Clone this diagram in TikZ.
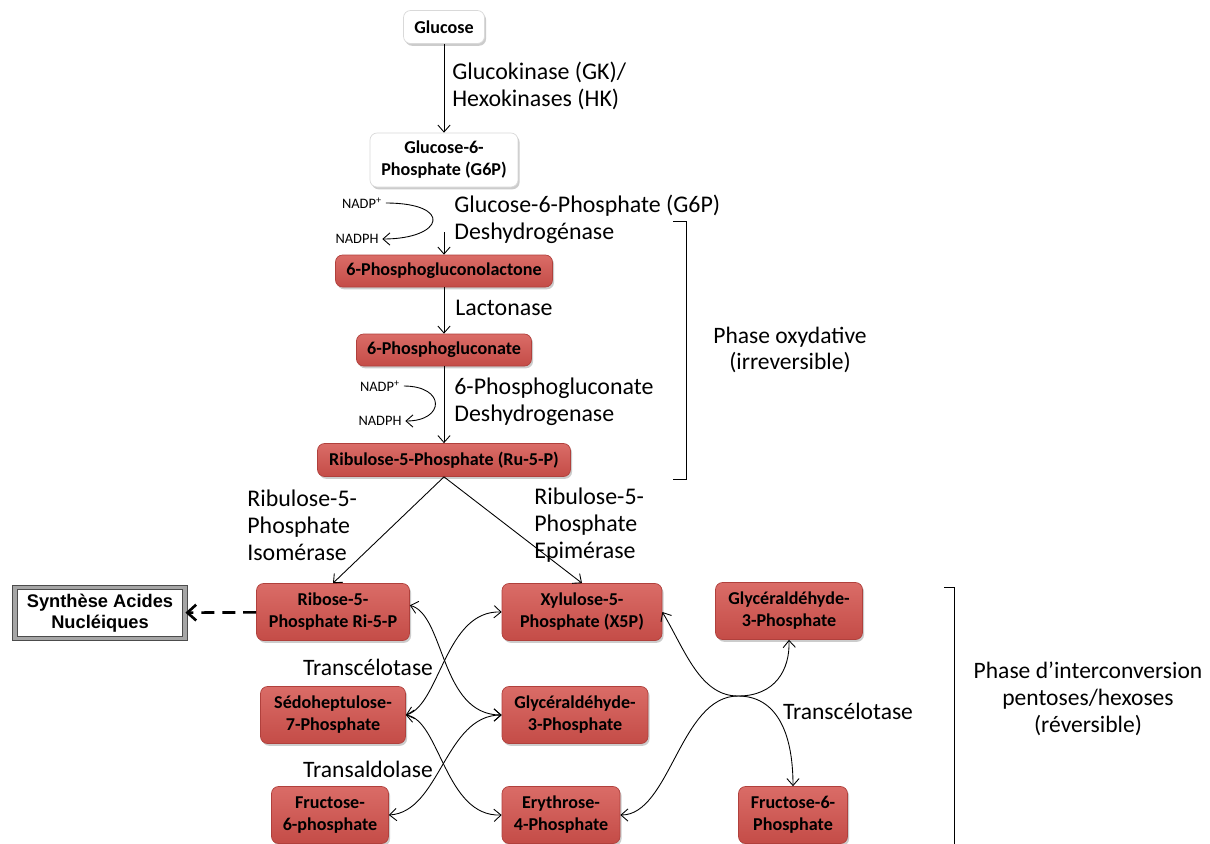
\documentclass[tikz,border=0pt]{standalone}
\usepackage{fontspec}
\setmainfont{Carlito}
\newfontfamily\arialfont{Liberation Sans}
\usetikzlibrary{arrows.meta,shadows}
\definecolor{boxtop}{RGB}{218,108,103}
\definecolor{boxbottom}{RGB}{196,76,71}
\definecolor{boxborder}{RGB}{176,64,60}
\begin{document}
\begin{tikzpicture}[
    x=0.02cm, y=-0.02cm,
    box/.style={rounded corners=4pt, inner sep=1pt, align=center,
        font=\fontsize{10.3}{12.5}\selectfont\bfseries,
        drop shadow={shadow xshift=0.9pt, shadow yshift=-1.3pt, opacity=0.4}},
    white box/.style={box, draw=black!15, fill=white},
    red box/.style={box, draw=boxborder, top color=boxtop, bottom color=boxbottom},
    flat/.style={minimum height=0.66cm},
    tall/.style={minimum height=1.14cm},
    enzyme/.style={inner sep=0pt, anchor=west, align=left, font=\fontsize{13.6}{15.3}\selectfont},
    phase/.style={inner sep=0pt, align=center, font=\fontsize{13.4}{15.3}\selectfont},
    cofactor/.style={inner sep=2pt, font=\fontsize{8.2}{9}\selectfont},
    reaction/.style={line width=0.5pt, -{Straight Barb[length=4pt,width=7pt]}},
    exchange/.style={line width=0.5pt, {Straight Barb[length=4pt,width=7pt]}-{Straight Barb[length=4pt,width=7pt]}},
]
\fill[white] (0,0) rectangle (1210,843);
\useasboundingbox (0,0) rectangle (1210,843);

\node[white box, flat, minimum width=1.62cm] (gluc) at (444,27) {Glucose};
\node[white box, minimum width=2.96cm, minimum height=1.08cm] (g6p) at (444,160) {Glucose-6-\\Phosphate (G6P)};
\node[red box, flat, minimum width=4.34cm, minimum height=0.64cm] (lact) at (444,271) {6-Phosphogluconolactone};
\node[red box, flat, minimum width=3.5cm, minimum height=0.64cm] (pgl) at (444,350) {6-Phosphogluconate};
\node[red box, flat, minimum width=5.06cm] (ru5p) at (444,460) {Ribulose-5-Phosphate (Ru-5-P)};
\node[red box, tall, minimum width=3.06cm] (rib) at (333,612) {Ribose-5-\\Phosphate Ri-5-P};
\node[red box, tall, minimum width=3.2cm] (xyl) at (582,612) {Xylulose-5-\\Phosphate (X5P)};
\node[red box, tall, minimum width=2.94cm] (gapa) at (789,611) {Glycéraldéhyde-\\3-Phosphate};
\node[red box, tall, minimum width=2.9cm] (sedo) at (333,715) {Sédoheptulose-\\7-Phosphate};
\node[red box, tall, minimum width=2.92cm] (gapb) at (575,715) {Glycéraldéhyde-\\3-Phosphate};
\node[red box, tall, minimum width=2.34cm] (frua) at (330,815) {Fructose-\\6-phosphate};
\node[red box, tall, minimum width=2.36cm] (ery) at (561,815) {Erythrose-\\4-Phosphate};
\node[red box, tall, minimum width=2.18cm] (frub) at (793,815) {Fructose-6-\\Phosphate};
\node[draw=black!70, double=black!35, double distance=2.2pt, line width=0.5pt, fill=white,
    minimum width=3.4cm, minimum height=1.02cm, align=center, inner sep=1pt,
    font=\arialfont\fontsize{10.4}{12}\selectfont\bfseries,
    drop shadow={shadow xshift=1pt, shadow yshift=-1.5pt, opacity=0.35}] (syn) at (100,613) {Synthèse Acides\\Nucléiques};

\node[enzyme] (gk) at (452,86) {Glucokinase (GK)/\\Hexokinases (HK)};
\node[enzyme] (g6pdh) at (454,219) {Glucose-6-Phosphate (G6P)\\Deshydrogénase};
\node[enzyme] (lacto) at (455,308) {Lactonase};
\node[enzyme] (pgdh) at (454,402) {6-Phosphogluconate\\Deshydrogenase};
\node[enzyme] (rpi) at (247,525) {Ribulose-5-\\Phosphate\\Isomérase};
\node[enzyme] (rpe) at (534,525) {Ribulose-5-\\Phosphate\\Epimérase};
\node[phase] (tka) at (368,667) {Transcélotase};
\node[phase] (tal) at (368,769) {Transaldolase};
\node[phase] (tkb) at (848,711) {Transcélotase};
\node[phase] (oxy) at (790,350) {Phase oxydative\\(irreversible)};
\node[phase] (inter) at (1088,699) {Phase d’interconversion\\pentoses/hexoses\\(réversible)};

\node[cofactor] (nadpa) at (362,203) {NADP\textsuperscript{+}};
\node[cofactor] (nadpha) at (357,239) {NADPH};
\node[cofactor] (nadpb) at (380,386) {NADP\textsuperscript{+}};
\node[cofactor] (nadphb) at (380,421) {NADPH};
\coordinate (g6pout) at (444,232);

\draw[reaction] (gluc) -- (g6p);
\draw[reaction] (g6pout) -- (lact);
\draw[reaction] (lact) -- (pgl);
\draw[reaction] (pgl) -- (ru5p);
\draw[reaction] (nadpa.east) .. controls +(68,0) and +(62,0) .. (nadpha.east);
\draw[reaction] (nadpb.east) .. controls +(42,0) and +(40,0) .. (nadphb.east);
\draw[reaction] (ru5p.south) -- (rib.north);
\draw[reaction] (ru5p.south) -- (xyl.north);
\draw[line width=1.5pt, dash pattern=on 7.4pt off 4.5pt, -{Straight Barb[length=5pt,width=9pt]}] (rib) -- (syn);

\draw[exchange] (rib.5) .. controls (445,615) and (440,715) .. (gapb.west);
\draw[exchange] (xyl.west) .. controls (445,610) and (440,705) .. (sedo.east);
\draw[exchange] (sedo.east) .. controls (440,720) and (445,817) .. (ery.west);
\draw[exchange] (gapb.west) .. controls (445,715) and (440,812) .. (frua.east);
\draw[exchange] (xyl.east) .. controls (685,650) and (700,696) .. (738,696) .. controls (775,696) and (793,730) .. (frub.north);
\draw[exchange] (ery.east) .. controls (670,815) and (680,696) .. (738,696) .. controls (775,696) and (790,670) .. (gapa.south);

\draw[line width=0.5pt] (673,221) -- (686,221) -- (686,479) -- (673,479);
\draw[line width=0.5pt] (944,587) -- (954,587) -- (954,850);
\end{tikzpicture}
\end{document}
